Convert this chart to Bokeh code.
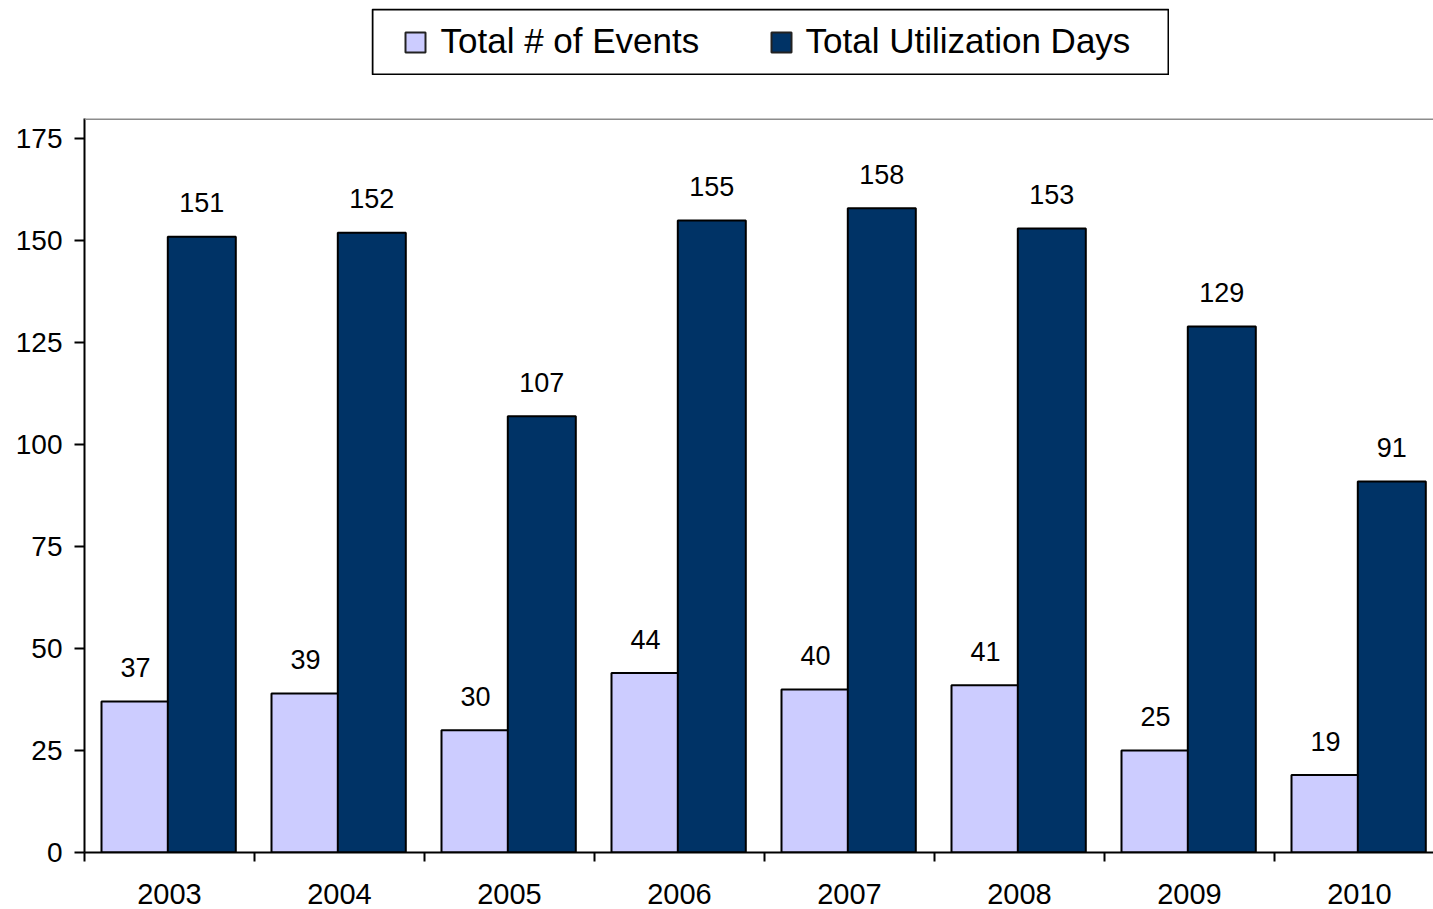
from bokeh.plotting import figure
from bokeh.models import Range1d, FixedTicker, Span, ColumnDataSource, Spacer
from bokeh.layouts import column, row
from bokeh.core.properties import value
from bokeh.embed import file_html
from bokeh.resources import INLINE

years = ["2003", "2004", "2005", "2006", "2007", "2008", "2009", "2010"]
events = [37, 39, 30, 44, 40, 41, 25, 19]
util_days = [151, 152, 107, 155, 158, 153, 129, 91]
series_names = ["Total # of Events", "Total Utilization Days"]
colors = ["#CCCCFF", "#003366"]
y_ticks = [0, 25, 50, 75, 100, 125, 150, 175]

FONT = "Liberation Sans"

idx = list(range(len(years)))
src_e = ColumnDataSource(dict(x=[i + 0.30 for i in idx], top=events, lab=[str(v) for v in events]))
src_u = ColumnDataSource(dict(x=[i + 0.69 for i in idx], top=util_days, lab=[str(v) for v in util_days]))

# ---------- legend figure ----------
lg = figure(width=798, height=67, x_range=Range1d(0, 798), y_range=Range1d(0, 67),
            toolbar_location=None, output_backend="svg",
            x_axis_location=None, y_axis_location=None, min_border=0)
lg.outline_line_color = None
lg.xgrid.visible = False
lg.ygrid.visible = False
lg.quad(left=[1], right=[797], bottom=[1], top=[66], fill_color=None, line_color="black", line_width=2)
lg.quad(left=[34, 400], right=[54, 420], bottom=[23, 23], top=[43, 43],
        fill_color=colors, line_color="#222222", line_width=2)
lg.text(x=[69, 434], y=[35, 35], text=series_names, text_font=value(FONT),
        text_font_size="35px", text_baseline="alphabetic", text_align="left", text_color="black")

# ---------- main chart ----------
xmax = 1349 / 170.0
p = figure(frame_width=1349, frame_height=734, x_range=Range1d(0, xmax), y_range=Range1d(0, 180),
           toolbar_location=None, output_backend="svg",
           min_border_left=84, min_border_right=0, min_border_top=43, min_border_bottom=57)
p.outline_line_color = None
p.xgrid.visible = False
p.ygrid.visible = False
p.background_fill_color = "white"

p.vbar(x="x", top="top", width=0.4, source=src_e, fill_color=colors[0], line_color="black", line_width=2)
p.vbar(x="x", top="top", width=0.4, source=src_u, fill_color=colors[1], line_color="black", line_width=2)

p.text(x="x", y="top", text="lab", source=src_e, y_offset=-34, text_align="center",
       text_baseline="alphabetic", text_font=value(FONT), text_font_size="27px", text_color="black")
p.text(x="x", y="top", text="lab", source=src_u, y_offset=-34, text_align="center",
       text_baseline="alphabetic", text_font=value(FONT), text_font_size="27px", text_color="black")

p.add_layout(Span(location=180, dimension="width", line_color="#8c8c8c", line_width=3))

# y axis
p.yaxis.ticker = FixedTicker(ticks=y_ticks)
p.yaxis.axis_line_color = "black"
p.yaxis.axis_line_width = 2
p.yaxis.major_tick_line_color = "black"
p.yaxis.major_tick_line_width = 2
p.yaxis.major_tick_out = 10
p.yaxis.major_tick_in = 0
p.yaxis.minor_tick_line_color = None
p.yaxis.major_label_standoff = 12
p.yaxis.major_label_text_font = FONT
p.yaxis.major_label_text_font_size = "28px"
p.yaxis.major_label_text_color = "black"

# x axis: labels at category centers, ticks at category boundaries
centers = [i + 0.5 for i in idx]
p.xaxis.ticker = FixedTicker(ticks=centers, minor_ticks=list(range(len(years) + 1)))
p.xaxis.major_label_overrides = {c: y for c, y in zip(centers, years)}
p.xaxis.axis_line_color = "black"
p.xaxis.axis_line_width = 2
p.xaxis.major_tick_line_color = None
p.xaxis.major_tick_out = 9
p.xaxis.major_tick_in = 0
p.xaxis.minor_tick_line_color = "black"
p.xaxis.minor_tick_line_width = 2
p.xaxis.minor_tick_out = 9
p.xaxis.minor_tick_in = 0
p.xaxis.major_label_standoff = 22
p.xaxis.major_label_text_font = FONT
p.xaxis.major_label_text_font_size = "29px"
p.xaxis.major_label_text_color = "black"

layout = column(Spacer(width=10, height=8), row(Spacer(width=371, height=67), lg), p)

open("out.html", "w").write(file_html(layout, INLINE))
